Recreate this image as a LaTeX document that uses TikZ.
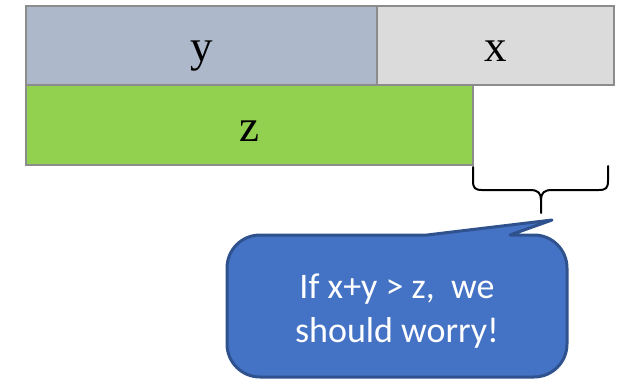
\documentclass[tikz,border=0pt]{standalone}
\usepackage{fontspec}
\newfontfamily\barfont{Liberation Serif}
\newfontfamily\notefont{Carlito}
\definecolor{ybar}{HTML}{ADB9CA}
\definecolor{xbar}{HTML}{DBDBDB}
\definecolor{zbar}{HTML}{92D050}
\definecolor{barline}{HTML}{8C8C8C}
\definecolor{notefill}{HTML}{4472C4}
\definecolor{noteline}{HTML}{2F528F}
\tikzset{
  bar/.style={draw=barline, line width=1.4pt, inner sep=0pt,
    text height=32pt, text depth=0pt,
    font=\barfont\fontsize{45}{48}\selectfont},
  bracestyle/.style={draw=black, line width=2pt, line join=round, line cap=round},
  callout/.style={fill=notefill, draw=noteline, line width=3pt, line join=round},
  notetext/.style={text=white, align=center,
    font=\notefont\fontsize{36}{44}\selectfont}
}
\begin{document}
\begin{tikzpicture}[x=1pt, y=-1pt]
\useasboundingbox (0,0) rectangle (630,380);

% stacked bars
\node[bar, fill=ybar, minimum width=351pt, minimum height=79pt] (ybox) at (201.5,45.5) {y};
\node[bar, fill=xbar, minimum width=237pt, minimum height=79pt] (xbox) at (495.5,45.5) {x};
\node[bar, fill=zbar, minimum width=447pt, minimum height=80pt] (zbox) at (249.5,125) {z};

% brace under the overhang
\coordinate (bl) at (473,167);
\coordinate (br) at (608,166);
\coordinate (bt) at (541,213);
\path[bracestyle]
  (bl) -- (473,181) .. controls (473,188) and (475,190) .. (482,190)
  -- (530,190) .. controls (538,190) and (541,193) .. (541,200) -- (bt)
  (541,200) .. controls (541,193) and (544,190) .. (552,190)
  -- (599,190) .. controls (606,190) and (608,188) .. (608,181) -- (br);

% speech bubble
\coordinate (tip) at (552,220);
\path[callout]
  (260,235) -- (427,235) -- (tip) -- (510,235) -- (534,235)
  arc[start angle=270, end angle=360, radius=33]
  -- (567,344) arc[start angle=0, end angle=90, radius=33]
  -- (260,377) arc[start angle=90, end angle=180, radius=33]
  -- (227,268) arc[start angle=180, end angle=270, radius=33]
  -- cycle;
\node[notetext] (note) at (397,311) {If x+y > z,~ we\\should worry!};
\end{tikzpicture}
\end{document}
